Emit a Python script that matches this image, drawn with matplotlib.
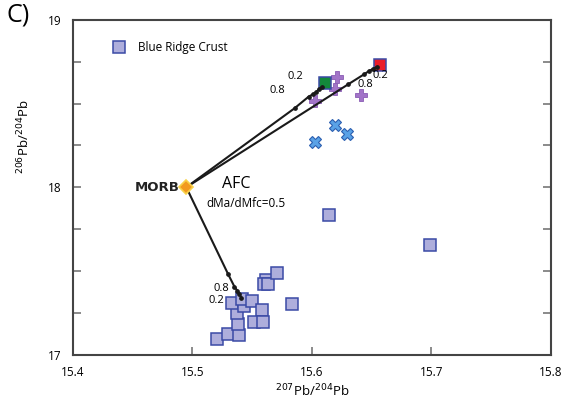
import numpy as np
import matplotlib.pyplot as plt

# DATA
# -----------------------------------------------------------------------------------------------
crust_x = [15.521, 15.530, 15.539, 15.538, 15.5375, 15.533, 15.543, 15.5417, 15.550, 15.558,
           15.552, 15.559, 15.583, 15.5617, 15.560, 15.5636, 15.571, 15.699, 15.614]
crust_y = [17.093, 17.123, 17.115, 17.181, 17.246, 17.306, 17.292, 17.330, 17.320, 17.266,
           17.196, 17.196, 17.300, 17.445, 17.420, 17.420, 17.486, 17.655, 17.834]

cross_x = [15.6194, 15.6297, 15.6028]
cross_y = [18.372, 18.317, 18.269]

plus_x = [15.6213, 15.6194, 15.6028, 15.6408]
plus_y = [18.657, 18.586, 18.518, 18.552]

green_end = (15.6111, 18.622)
red_end = (15.6567, 18.731)
morb = (15.495, 18.0)

# AFC curves: start at MORB, dots at the model steps
afc_green_x = [15.495, 15.5855, 15.5972, 15.6011, 15.6036, 15.6061, 15.6086]
afc_green_y = [18.000, 18.472, 18.541, 18.557, 18.569, 18.587, 18.599]
afc_red_x = [15.495, 15.6305, 15.6436, 15.6478, 15.6511, 15.6544]
afc_red_y = [18.000, 18.616, 18.675, 18.695, 18.707, 18.719]
afc_crust_x = [15.495, 15.530, 15.5353, 15.5378, 15.5394, 15.5411]
afc_crust_y = [18.000, 17.480, 17.405, 17.380, 17.362, 17.338]

# PLOT
# -----------------------------------------------------------------------------------------------
plt.rcParams['font.family'] = ['Open Sans', 'DejaVu Sans']

fig = plt.figure(figsize=(5.65, 4.04), dpi=100)
ax = fig.add_axes([0.1287, 0.1225, 0.8465, 0.828])

sq_face = '#aeaedc'
sq_edge = '#3b4aa6'

for xs, ys in [(afc_green_x, afc_green_y), (afc_red_x, afc_red_y), (afc_crust_x, afc_crust_y)]:
    ax.plot(xs, ys, color='#1a1a1a', lw=1.5, zorder=3)
    ax.plot(xs[1:], ys[1:], 'o', color='#1a1a1a', ms=2.4, zorder=3)

ax.plot(crust_x, crust_y, 's', ms=8.5, mfc=sq_face, mec=sq_edge, mew=1.1, zorder=2,
        label='Blue Ridge Crust')
ax.plot(cross_x, cross_y, 'X', ms=9, mfc='#5aa2e6', mec='#2c5fb0', mew=0.8, zorder=2)
ax.plot(plus_x, plus_y, 'P', ms=9, mfc='#a274c8', mec='#8a5cb4', mew=0.6, zorder=2)
ax.plot(*green_end, 's', ms=8.5, mfc='#13893b', mec=sq_edge, mew=1.1, zorder=2)
ax.plot(*red_end, 's', ms=8.5, mfc='#ea1c2a', mec=sq_edge, mew=1.1, zorder=2)
ax.plot(*morb, 'D', ms=7.5, mfc='#f29a1f', mec='#f8d24a', mew=1.2, zorder=4)

# annotations
ax.text(15.4895, 18.0, 'MORB', fontsize=9.5, fontweight='black', family=['DejaVu Sans'],
        ha='right', va='center', color='#222222')
ax.text(15.537, 18.02, 'AFC', fontsize=11.5, ha='center', va='center')
ax.text(15.5445, 17.905, 'dMa/dMfc=0.5', fontsize=8.5, ha='center', va='center')
ax.text(15.5865, 18.665, '0.2', fontsize=8, ha='center', va='center')
ax.text(15.5715, 18.58, '0.8', fontsize=8, ha='center', va='center')
ax.text(15.6575, 18.67, '0.2', fontsize=8, ha='center', va='center')
ax.text(15.6445, 18.615, '0.8', fontsize=8, ha='center', va='center')
ax.text(15.5245, 17.395, '0.8', fontsize=8, ha='center', va='center')
ax.text(15.5205, 17.325, '0.2', fontsize=8, ha='center', va='center')

ax.set_xlim(15.4, 15.8)
ax.set_ylim(17, 19)
ax.set_xticks(np.arange(15.4, 15.81, 0.1))
ax.set_xticklabels(['15.4', '15.5', '15.6', '15.7', '15.8'])
ax.set_yticks([17, 18, 19])
ax.set_yticks([17.25, 17.5, 17.75, 18.25, 18.5, 18.75], minor=True)
ax.tick_params(axis='both', which='both', direction='in', color='#777777', width=1.2,
               labelsize=8.5, top=False, right=True)
ax.tick_params(axis='x', which='major', length=6, pad=8)
ax.tick_params(axis='y', which='major', length=6, pad=8)
ax.tick_params(axis='y', which='minor', length=6)
for s in ax.spines.values():
    s.set_color('#444444')
    s.set_linewidth(1.5)

ax.set_xlabel('$^{207}$Pb/$^{204}$Pb', fontsize=9.5, labelpad=3)
ax.set_ylabel('$^{206}$Pb/$^{204}$Pb', fontsize=9.5, labelpad=4)
ax.yaxis.set_label_coords(-0.085, 0.65)

ax.legend(loc='upper left', frameon=False, fontsize=8.5, handletextpad=0.6,
          bbox_to_anchor=(0.05, 0.97), numpoints=1)

fig.text(0.012, 0.995, 'C)', fontsize=18, va='top', ha='left')

plt.savefig('out.png', dpi=100)
